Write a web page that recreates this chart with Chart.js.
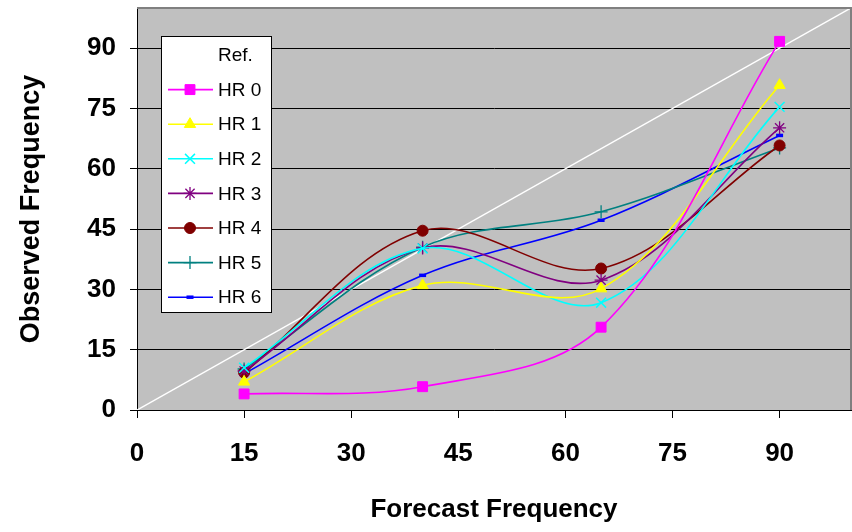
<!DOCTYPE html>
<html>
<head>
<meta charset="utf-8">
<script src="https://cdn.jsdelivr.net/npm/chart.js@4.4.0/dist/chart.umd.min.js"></script>
<style>
  html, body { margin: 0; padding: 0; background: #ffffff; }
  #wrap { width: 852px; height: 532px; position: relative; }
</style>
</head>
<body>
<div id="wrap"><canvas id="c" width="852" height="532"></canvas></div>
<script>
// ---- data ----
const forecastBins = [15, 40, 65, 90];
const seriesNames = ['HR 0', 'HR 1', 'HR 2', 'HR 3', 'HR 4', 'HR 5', 'HR 6'];
const hr0 = [4.0, 5.8, 20.6, 91.7];
const hr1 = [7.0, 31.0, 30.2, 80.8];
const hr2 = [10.5, 40.2, 26.7, 75.4];
const hr3 = [9.7, 40.3, 32.3, 70.2];
const hr4 = [9.3, 44.6, 35.2, 65.8];
const hr5 = [10.2, 40.5, 49.3, 65.2];
const hr6 = [9.0, 33.5, 47.2, 68.3];
const refX = [0, 100];
const refY = [0, 100];
const axisTicks = [0, 15, 30, 45, 60, 75, 90];

const seriesValues = [hr0, hr1, hr2, hr3, hr4, hr5, hr6];
const seriesStyle = [
  { color: '#FF00FF', style: 'rect',     radius: 7,   pbw: 1 },
  { color: '#FFFF00', style: 'triangle', radius: 6.5, pbw: 1 },
  { color: '#00FFFF', style: 'crossRot', radius: 7,   pbw: 1.5 },
  { color: '#800080', style: 'star',     radius: 6.5, pbw: 1.3 },
  { color: '#800000', style: 'circle',   radius: 5.5, pbw: 1 },
  { color: '#008080', style: 'cross',    radius: 6.5, pbw: 1.3 },
  { color: '#0000FF', style: 'line',     radius: 3.5, pbw: 3.5 }
];

function toPoints(xs, ys) { return xs.map((x, i) => ({ x: x, y: ys[i] })); }

const datasets = seriesValues.map((vals, i) => ({
  label: seriesNames[i],
  data: toPoints(forecastBins, vals),
  borderColor: seriesStyle[i].color,
  backgroundColor: seriesStyle[i].color,
  pointBackgroundColor: seriesStyle[i].color,
  pointBorderColor: seriesStyle[i].color,
  pointStyle: seriesStyle[i].style,
  pointRadius: seriesStyle[i].radius,
  pointBorderWidth: seriesStyle[i].pbw,
  pointHoverRadius: seriesStyle[i].radius,
  borderWidth: 1.6,
  tension: 0.35,
  showLine: true,
  fill: false
}));
datasets.push({
  label: 'Ref.',
  data: toPoints(refX, refY),
  borderColor: '#FFFFFF',
  backgroundColor: '#FFFFFF',
  pointRadius: 0,
  pointStyle: false,
  borderWidth: 1.5,
  showLine: true,
  fill: false
});

const FONT = "'Liberation Sans', Arial, sans-serif";

const bgPlugin = {
  id: 'bgPlugin',
  beforeDraw(chart) {
    const { ctx, chartArea: a } = chart;
    ctx.save();
    ctx.fillStyle = '#FFFFFF';
    ctx.fillRect(0, 0, chart.width, chart.height);
    ctx.fillStyle = '#C0C0C0';
    ctx.fillRect(a.left, a.top, a.right - a.left, a.bottom - a.top);
    ctx.restore();
  },
  afterDatasetsDraw(chart) {
    const { ctx, chartArea: a } = chart;
    ctx.save();
    ctx.strokeStyle = '#808080';
    ctx.lineWidth = 2;
    ctx.beginPath();
    ctx.moveTo(a.left, a.top);
    ctx.lineTo(a.right, a.top);
    ctx.lineTo(a.right, a.bottom);
    ctx.stroke();
    ctx.restore();
  }
};

const legendPlugin = {
  id: 'boxLegend',
  afterDraw(chart) {
    const ctx = chart.ctx;
    const box = { l: 161.5, t: 36.5, r: 271.5, b: 312.5 };
    ctx.save();
    ctx.fillStyle = '#FFFFFF';
    ctx.fillRect(box.l, box.t, box.r - box.l, box.b - box.t);
    ctx.strokeStyle = '#000000';
    ctx.lineWidth = 1;
    ctx.strokeRect(box.l, box.t, box.r - box.l, box.b - box.t);
    const ds = chart.data.datasets;
    const order = [ds.length - 1].concat(ds.map((d, i) => i).slice(0, ds.length - 1));
    order.forEach((idx, row) => {
      const d = ds[idx];
      const y = 55 + row * 34.6;
      ctx.strokeStyle = d.borderColor;
      ctx.lineWidth = 1.6;
      ctx.beginPath();
      ctx.moveTo(168, y);
      ctx.lineTo(213, y);
      ctx.stroke();
      if (d.pointStyle && Chart.helpers && Chart.helpers.drawPoint) {
        ctx.fillStyle = d.pointBackgroundColor;
        ctx.strokeStyle = d.pointBorderColor;
        ctx.lineWidth = d.pointBorderWidth;
        Chart.helpers.drawPoint(ctx, {
          pointStyle: d.pointStyle, rotation: 0,
          radius: d.pointRadius, borderWidth: d.pointBorderWidth
        }, 190, y);
      }
      ctx.fillStyle = '#000000';
      ctx.font = '19px ' + FONT;
      ctx.textAlign = 'left';
      ctx.textBaseline = 'middle';
      ctx.fillText(d.label, 218, y + 1);
    });
    ctx.restore();
  }
};

function zeroPad(scale) {
  scale.paddingLeft = 0; scale.paddingRight = 0;
  scale.paddingTop = 0; scale.paddingBottom = 0;
}

new Chart(document.getElementById('c'), {
  type: 'scatter',
  data: { datasets: datasets },
  plugins: [bgPlugin, legendPlugin],
  options: {
    responsive: false,
    animation: false,
    events: [],
    layout: { autoPadding: false, padding: { top: 8, right: 1, left: 0, bottom: 0 } },
    plugins: { legend: { display: false }, tooltip: { enabled: false }, title: { display: false } },
    scales: {
      x: {
        type: 'linear',
        min: 0, max: 100,
        afterFit(scale) { scale.height = 122; zeroPad(scale); },
        afterBuildTicks(scale) { scale.ticks = axisTicks.map(v => ({ value: v })); },
        ticks: {
          stepSize: 15, includeBounds: false, autoSkip: false, maxRotation: 0,
          color: '#000000', padding: 23,
          font: { family: FONT, size: 26, weight: 'bold', lineHeight: 1 }
        },
        grid: { drawOnChartArea: false, drawTicks: true, tickLength: 8, color: '#000000', lineWidth: 1 },
        border: { display: true, color: '#000000', width: 1 },
        title: {
          display: true, text: 'Forecast Frequency', color: '#000000',
          font: { family: FONT, size: 26, weight: 'bold', lineHeight: 1 },
          padding: { top: 0, bottom: 9 }
        }
      },
      y: {
        type: 'linear',
        min: 0, max: 100,
        afterFit(scale) { scale.width = 137; zeroPad(scale); },
        afterBuildTicks(scale) { scale.ticks = axisTicks.map(v => ({ value: v })); },
        ticks: {
          stepSize: 15, includeBounds: false, autoSkip: false,
          color: '#000000', padding: 14,
          font: { family: FONT, size: 26, weight: 'bold', lineHeight: 1 }
        },
        grid: { drawOnChartArea: true, drawTicks: true, tickLength: 7, color: '#000000', lineWidth: 1 },
        border: { display: true, color: '#000000', width: 1 },
        title: {
          display: true, text: 'Observed Frequency', color: '#000000',
          font: { family: FONT, size: 27, weight: 'bold', lineHeight: 1 },
          padding: { top: 18, bottom: 0 }
        }
      }
    }
  }
});
</script>
</body>
</html>
